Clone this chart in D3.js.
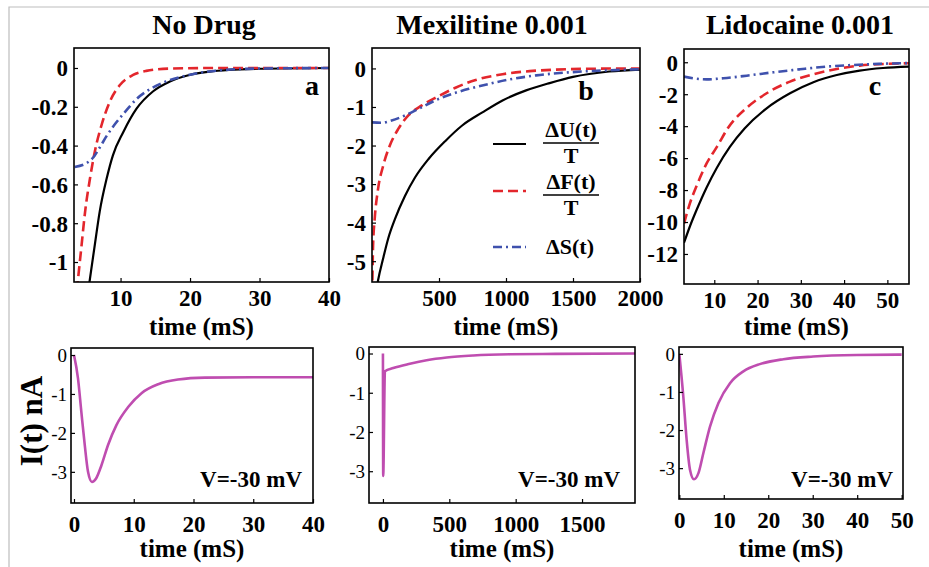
<!DOCTYPE html>
<html lang="en">
<head>
<meta charset="UTF-8">
<title>Sodium channel energy terms</title>
<script src="https://cdn.jsdelivr.net/npm/d3@7"></script>
<style>
  html, body { margin: 0; padding: 0; background: #fff; }
  svg text { font-family: "Liberation Serif", "DejaVu Serif", serif; fill: #000; }
  .tick line { stroke: #000; stroke-width: 1.2; }
</style>
</head>
<body>
<svg id="chart" width="929" height="567"></svg>
<script>
// values: [time (mS), value]
const noDrugU = [[5.3,-1.16],[5.5,-1.11],[6.3,-0.91],[7.0,-0.74],[8.0,-0.57],[8.9,-0.45],[10.4,-0.33],[12.3,-0.21],[14.7,-0.12],[17.1,-0.07],[19.9,-0.036],[22.8,-0.019],[25.6,-0.01],[30,-0.004],[40,0]];
const noDrugF = [[3.7,-1.15],[4.4,-0.91],[4.9,-0.74],[5.6,-0.57],[6.3,-0.43],[7.3,-0.29],[8.5,-0.17],[9.9,-0.088],[11.8,-0.036],[13.7,-0.015],[17,-0.003],[25,0],[40,0]];
const noDrugS = [[3.4,-0.51],[5.1,-0.49],[6.1,-0.46],[7.0,-0.41],[8.0,-0.35],[9.4,-0.28],[10.8,-0.22],[12.3,-0.16],[14.2,-0.11],[16.5,-0.07],[20,-0.035],[25,-0.01],[30,-0.003],[40,0]];

const mexU = [[35,-5.7],[45,-5.5],[83,-4.93],[121,-4.41],[171,-3.91],[246,-3.31],[321,-2.83],[422,-2.35],[548,-1.88],[673,-1.48],[824,-1.14],[974,-0.83],[1150,-0.57],[1326,-0.38],[1500,-0.22],[1770,-0.08],[2000,-0.03]];
const mexF = [[3,-5.5],[8,-4.6],[20,-3.91],[45,-3.13],[83,-2.53],[133,-2.0],[196,-1.57],[271,-1.22],[372,-0.96],[497,-0.72],[623,-0.5],[774,-0.3],[974,-0.15],[1176,-0.07],[1377,-0.03],[1600,-0.01],[2000,0]];
const mexS = [[0,-1.40],[70,-1.41],[146,-1.35],[246,-1.22],[347,-1.05],[472,-0.83],[598,-0.66],[723,-0.53],[874,-0.40],[1050,-0.27],[1226,-0.18],[1477,-0.1],[1750,-0.05],[2000,-0.02]];

const lidoU = [[3.0,-11.3],[4.4,-10.25],[5.9,-9.25],[8.2,-7.85],[10.6,-6.6],[13.6,-5.3],[17.0,-4.15],[22.1,-2.88],[27.5,-1.94],[32.9,-1.25],[38.3,-0.80],[43.6,-0.52],[49,-0.36],[55,-0.27]];
const lidoF = [[3.0,-10.1],[4.4,-8.8],[5.9,-7.75],[8.2,-6.35],[10.6,-5.3],[13.2,-4.1],[17.5,-2.85],[22.1,-1.94],[27.5,-1.21],[32.9,-0.75],[38.3,-0.42],[43.6,-0.21],[50,-0.1],[55,-0.06]];
const lidoS = [[3.0,-0.90],[5.1,-1.0],[8.2,-1.07],[12.1,-1.0],[17.5,-0.84],[23.6,-0.63],[29.8,-0.44],[36.0,-0.27],[42.1,-0.17],[48,-0.1],[55,-0.05]];

const noDrugI = [[0,0],[0.67,-0.6],[1.23,-1.46],[1.8,-2.31],[2.35,-3.0],[3.0,-3.26],[3.7,-3.17],[4.6,-2.83],[5.7,-2.31],[7.1,-1.80],[9.1,-1.33],[11.3,-0.98],[14.1,-0.75],[17.4,-0.63],[21.9,-0.58],[30,-0.57],[40,-0.57]];
const mexI = [[0,0],[2,-3.12],[15,-0.45],[78,-0.37],[203,-0.26],[329,-0.17],[480,-0.10],[680,-0.05],[957,-0.02],[1300,-0.01],[1900,0]];
const lidoI = [[0,0],[0.9,-1.12],[1.65,-2.26],[2.4,-3.04],[3.3,-3.29],[4.3,-3.13],[5.4,-2.61],[6.9,-1.91],[8.8,-1.29],[11.4,-0.77],[14.4,-0.46],[18.1,-0.27],[23.4,-0.14],[30.1,-0.07],[39.9,-0.03],[50,-0.02]];

const titles = ["No Drug", "Mexilitine 0.001", "Lidocaine 0.001"];
const panelLetters = ["a", "b", "c"];
const xTicksTop = [[10,20,30,40],[500,1000,1500,2000],[10,20,30,40,50]];
const yTicksTop = [[0,-0.2,-0.4,-0.6,-0.8,-1],[0,-1,-2,-3,-4,-5],[0,-2,-4,-6,-8,-10,-12]];
const xTicksBottom = [[0,10,20,30,40],[0,500,1000,1500],[0,10,20,30,40,50]];
const yTicksBottom = [0,-1,-2,-3];
const legendNames = ["ΔU(t)", "ΔF(t)", "ΔS(t)"];

const svg = d3.select('#chart');

// frame
svg.append('path').attr('d', 'M9,567V7H929').attr('fill', 'none')
  .attr('stroke', '#bdbdbd').attr('stroke-width', 1.2);

const series = {
  U: { color: '#000', width: 2.2, dash: null },
  F: { color: '#e3262c', width: 2.6, dash: '10,5' },
  S: { color: '#3f51ad', width: 2.6, dash: '9,4,2,4' },
  I: { color: '#bf4db0', width: 2.6, dash: null }
};

// layout of the six boxes (pixels) with the domains
const topPanels = [
  { box: [74, 48, 329, 282], x: [3.3, 40], y: [-1.103, 0.103], lines: [['U', noDrugU], ['F', noDrugF], ['S', noDrugS]], letter: [312, 95], tx: 204 },
  { box: [372, 48, 640, 282], x: [0, 2000], y: [-5.54, 0.53], lines: [['U', mexU], ['F', mexF], ['S', mexS]], letter: [586, 100], tx: 492 },
  { box: [684, 49, 909, 284], x: [3.0, 55], y: [-13.88, 0.83], lines: [['U', lidoU], ['F', lidoF], ['S', lidoS]], letter: [875, 95], tx: 800 }
];
const bottomPanels = [
  { box: [71, 348, 313, 503], x: [-0.5, 40], y: [-3.8, 0.18], data: noDrugI, vx: 302 },
  { box: [369, 347, 635, 503], x: [-105, 1899], y: [-3.81, 0.166], data: mexI, vx: 620 },
  { box: [679, 347, 903, 499], x: [-0.07, 50.3], y: [-3.81, 0.18], data: lidoI, vx: 893 }
];

function drawPanel(p, i, opts) {
  const [x0, y0, x1, y1] = p.box;
  const xs = d3.scaleLinear().domain(p.x).range([x0, x1]);
  const ys = d3.scaleLinear().domain(p.y).range([y1, y0]);
  const clipId = 'clip' + opts.id + i;
  svg.append('clipPath').attr('id', clipId).append('rect')
    .attr('x', x0).attr('y', y0).attr('width', x1 - x0).attr('height', y1 - y0);

  const line = d3.line().x(d => xs(d[0])).y(d => ys(d[1])).curve(d3.curveMonotoneX);
  const g = svg.append('g').attr('clip-path', `url(#${clipId})`);
  opts.lines.forEach(([key, data]) => {
    const s = series[key];
    g.append('path').datum(data).attr('d', line)
      .attr('fill', 'none').attr('stroke', s.color).attr('stroke-width', s.width)
      .attr('stroke-dasharray', s.dash).attr('stroke-linejoin', 'round');
  });

  const xAxis = svg.append('g').attr('transform', `translate(0,${y1})`)
    .call(d3.axisBottom(xs).tickValues(opts.xTicks).tickSize(-4).tickFormat(d3.format('d')));
  xAxis.select('.domain').remove();
  xAxis.selectAll('text').attr('y', opts.xLabelOffset).attr('dy', null)
    .attr('font-size', 23).attr('font-weight', 'bold');

  const yAxis = svg.append('g').attr('transform', `translate(${x0},0)`)
    .call(d3.axisLeft(ys).tickValues(opts.yTicks).tickSize(-4).tickFormat(d => String(d)));
  yAxis.select('.domain').remove();
  yAxis.selectAll('text').attr('x', -opts.yPad).attr('dy', '0.34em')
    .attr('font-size', opts.yFont).attr('font-weight', opts.yWeight);

  svg.append('rect').attr('x', x0).attr('y', y0).attr('width', x1 - x0).attr('height', y1 - y0)
    .attr('fill', 'none').attr('stroke', '#000').attr('stroke-width', 1.6);

  svg.append('text').attr('x', (x0 + x1) / 2).attr('y', opts.labelY)
    .attr('text-anchor', 'middle').attr('font-size', 25).attr('font-weight', 'bold').text('time (mS)');
}

topPanels.forEach((p, i) => {
  drawPanel(p, i, { id: 't', lines: p.lines, xTicks: xTicksTop[i], yTicks: yTicksTop[i],
    xLabelOffset: 24, yPad: 6, yFont: 23, yWeight: 'bold', labelY: 335 });
  svg.append('text').attr('x', p.tx).attr('y', 34)
    .attr('text-anchor', 'middle').attr('font-size', 28).attr('font-weight', 'bold').text(titles[i]);
  svg.append('text').attr('x', p.letter[0]).attr('y', p.letter[1])
    .attr('text-anchor', 'middle').attr('font-size', 28).attr('font-weight', 'bold').text(panelLetters[i]);
});

bottomPanels.forEach((p, i) => {
  drawPanel(p, i, { id: 'b', lines: [['I', p.data]], xTicks: xTicksBottom[i], yTicks: yTicksBottom,
    xLabelOffset: 29, yPad: 4, yFont: 19, yWeight: 'normal', labelY: 557 });
  svg.append('text').attr('x', p.vx).attr('y', 487)
    .attr('text-anchor', 'end').attr('font-size', 23).attr('font-weight', 'bold').text('V=-30 mV');
});

svg.append('text').attr('transform', 'translate(42,421) rotate(-90)')
  .attr('text-anchor', 'middle').attr('font-size', 31).attr('font-weight', 'bold').text('I(t) nA');

// legend in panel b
const legend = [
  { key: 'U', y: 144, bar: 143, name: legendNames[0], frac: true },
  { key: 'F', y: 191, bar: 195, name: legendNames[1], frac: true },
  { key: 'S', y: 247, name: legendNames[2], frac: false }
];
legend.forEach(l => {
  const s = series[l.key];
  svg.append('line').attr('x1', 493).attr('x2', 526).attr('y1', l.y).attr('y2', l.y)
    .attr('stroke', s.color).attr('stroke-width', s.width).attr('stroke-dasharray', s.dash);
  if (l.frac) {
    svg.append('text').attr('x', 571).attr('y', l.bar - 6).attr('text-anchor', 'middle')
      .attr('font-size', 22).attr('font-weight', 'bold').text(l.name);
    svg.append('line').attr('x1', 543).attr('x2', 599).attr('y1', l.bar).attr('y2', l.bar)
      .attr('stroke', '#000').attr('stroke-width', 1.4);
    svg.append('text').attr('x', 571).attr('y', l.bar + 20).attr('text-anchor', 'middle')
      .attr('font-size', 22).attr('font-weight', 'bold').text('T');
  } else {
    svg.append('text').attr('x', 570).attr('y', l.y + 7).attr('text-anchor', 'middle')
      .attr('font-size', 22).attr('font-weight', 'bold').text(l.name);
  }
});
</script>
</body>
</html>
